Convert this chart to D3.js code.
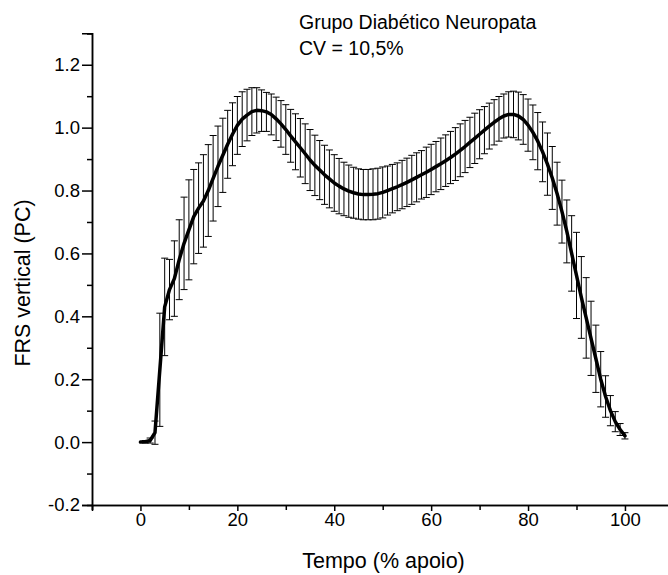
<!DOCTYPE html>
<html>
<head>
<meta charset="utf-8">
<script src="https://cdn.jsdelivr.net/npm/d3@7"></script>
<style>
  html, body { margin: 0; padding: 0; background: #fff; }
  svg { display: block; }
  text { font-family: "Liberation Sans", Arial, sans-serif; fill: #000; }
</style>
</head>
<body>
<svg id="chart" width="668" height="575"></svg>
<script>
// % of stance phase
const apoio = [0,1,2,3,4,5,6,7,8,9,10,11,12,13,14,15,16,17,18,19,20,21,22,23,24,25,26,27,28,29,30,31,32,33,34,35,36,37,38,39,40,41,42,43,44,45,46,47,48,49,50,51,52,53,54,55,56,57,58,59,60,61,62,63,64,65,66,67,68,69,70,71,72,73,74,75,76,77,78,79,80,81,82,83,84,85,86,87,88,89,90,91,92,93,94,95,96,97,98,99,100];
// mean vertical GRF (body weight)
const media = [0,0.001,0.005,0.03,0.23,0.43,0.485,0.52,0.58,0.632,0.675,0.717,0.744,0.767,0.80,0.839,0.877,0.912,0.947,0.979,1.007,1.027,1.04,1.051,1.055,1.054,1.05,1.042,1.028,1.012,0.994,0.974,0.955,0.936,0.917,0.897,0.88,0.865,0.85,0.837,0.824,0.814,0.805,0.798,0.793,0.789,0.787,0.787,0.788,0.79,0.794,0.80,0.806,0.812,0.819,0.826,0.834,0.842,0.85,0.858,0.867,0.876,0.885,0.895,0.905,0.916,0.928,0.94,0.953,0.966,0.979,0.992,1.005,1.017,1.028,1.037,1.042,1.042,1.037,1.026,1.008,0.985,0.957,0.923,0.884,0.84,0.79,0.733,0.67,0.60,0.53,0.46,0.395,0.33,0.265,0.2,0.145,0.1,0.065,0.04,0.02];
// standard deviation
const desvio = [0,0.004,0.008,0.037,0.18,0.155,0.096,0.12,0.127,0.147,0.159,0.15,0.144,0.147,0.146,0.136,0.128,0.118,0.108,0.10,0.092,0.087,0.082,0.076,0.072,0.066,0.062,0.065,0.069,0.074,0.079,0.084,0.089,0.093,0.095,0.097,0.096,0.094,0.094,0.092,0.09,0.088,0.085,0.083,0.081,0.08,0.08,0.08,0.081,0.081,0.081,0.078,0.077,0.076,0.077,0.077,0.078,0.078,0.077,0.08,0.08,0.08,0.082,0.082,0.083,0.084,0.084,0.083,0.08,0.08,0.078,0.075,0.073,0.072,0.071,0.07,0.072,0.074,0.076,0.079,0.083,0.087,0.091,0.095,0.099,0.1,0.1,0.1,0.1,0.12,0.137,0.13,0.128,0.118,0.107,0.088,0.066,0.048,0.032,0.019,0.01];

const xMajor = [0,20,40,60,80,100];
const xMinor = [-10,10,30,50,70,90,110];
const yMajor = [-0.2,0.0,0.2,0.4,0.6,0.8,1.0,1.2];
const yMinor = [-0.1,0.1,0.3,0.5,0.7,0.9,1.1,1.3];

const titulo1 = "Grupo Diabético Neuropata";
const titulo2 = "CV = 10,5%";
const xTitulo = "Tempo (% apoio)";
const yTitulo = "FRS vertical (PC)";

const svg = d3.select("#chart");
const x = d3.scaleLinear().domain([-10, 110]).range([92, 673.4]);
const y = d3.scaleLinear().domain([-0.2, 1.3]).range([505, 33.3]);

// error bars
const data = apoio.map((a, i) => ({a, m: media[i], s: desvio[i]})).filter(d => d.a >= 1);
const capW = 3.5;
const eb = svg.append("g").attr("stroke", "#000").attr("stroke-width", 1).attr("fill", "none");
eb.selectAll("path.eb").data(data).join("path")
  .attr("class", "eb")
  .attr("d", d => {
    const cx = x(d.a), yt = y(d.m + d.s), yb = y(d.m - d.s);
    return `M${cx},${yt}V${yb}M${cx - capW},${yt}H${cx + capW}M${cx - capW},${yb}H${cx + capW}`;
  });

// mean line
const line = d3.line().x((d, i) => x(apoio[i])).y(d => y(d)).curve(d3.curveLinear);
svg.append("path").datum(media)
  .attr("d", line)
  .attr("fill", "none").attr("stroke", "#000").attr("stroke-width", 3.5)
  .attr("stroke-linejoin", "round").attr("stroke-linecap", "round");

// axes
const fmt = d => d.toFixed(1);
const yAx = svg.append("g").attr("transform", "translate(92,0)")
  .call(d3.axisLeft(y).tickValues(yMajor).tickFormat(fmt).tickSize(10).tickPadding(2));
svg.append("g").attr("transform", "translate(92,0)")
  .call(d3.axisLeft(y).tickValues(yMinor).tickFormat("").tickSize(5));
const xAx = svg.append("g").attr("transform", "translate(0,505)")
  .call(d3.axisBottom(x).tickValues(xMajor).tickFormat(d3.format("d")).tickSize(6).tickPadding(2));
svg.append("g").attr("transform", "translate(0,505)")
  .call(d3.axisBottom(x).tickValues(xMinor).tickFormat("").tickSize(5));

svg.selectAll(".domain").attr("stroke", "#000").attr("stroke-width", 1.5);
svg.selectAll(".tick line").attr("stroke", "#000").attr("stroke-width", 1.5);
yAx.selectAll("text").style("font-size", "18.5px").attr("font-family", "Liberation Sans, Arial, sans-serif");
xAx.selectAll("text").style("font-size", "18.5px").attr("font-family", "Liberation Sans, Arial, sans-serif");

// axis titles
svg.append("text").attr("x", 383.5).attr("y", 568).attr("text-anchor", "middle")
  .style("font-size", "21.5px").text(xTitulo);
svg.append("text").attr("transform", "translate(30,283) rotate(-90)").attr("text-anchor", "middle")
  .style("font-size", "21.5px").text(yTitulo);

// annotation
svg.append("text").attr("x", 299).attr("y", 29.3).style("font-size", "19.5px").text(titulo1);
svg.append("text").attr("x", 299).attr("y", 55).style("font-size", "19.5px").text(titulo2);
</script>
</body>
</html>
